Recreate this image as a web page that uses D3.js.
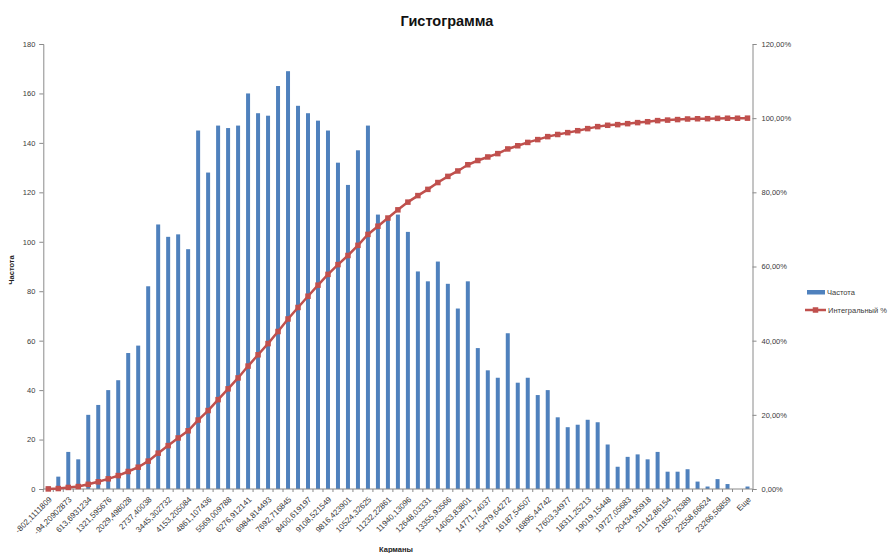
<!DOCTYPE html>
<html>
<head>
<meta charset="utf-8">
<script src="https://cdn.jsdelivr.net/npm/d3@7"></script>
<style>
  body { margin: 0; background: #fff; }
  text { font-family: "Liberation Sans", Arial, sans-serif; }
</style>
</head>
<body>
<svg id="chart" width="893" height="553"></svg>
<script>
// Bin upper bounds ("Карманы"), last bin is the overflow bin
const bins = [
  "-802,1111809", "-448,1600079", "-94,20902873", "259,7421443", "613,6931234", "967,6442964",
  "1321,595676", "1675,546849", "2029,498028", "2383,449201", "2737,40038", "3091,351553",
  "3445,302732", "3799,253905", "4153,205084", "4507,156257", "4861,107436", "5215,058609",
  "5569,009788", "5922,960961", "6276,912141", "6630,863314", "6984,814493", "7338,765666",
  "7692,716845", "8046,668018", "8400,619197", "8754,57037", "9108,521549", "9462,472722",
  "9816,423901", "10170,37507", "10524,32625", "10878,27742", "11232,22861", "11586,17978",
  "11940,13096", "12294,08213", "12648,03331", "13001,98448", "13355,93566", "13709,88683",
  "14063,83801", "14417,78918", "14771,74037", "15125,69154", "15479,64272", "15833,59389",
  "16187,54507", "16541,49624", "16895,44742", "17249,39859", "17603,34977", "17957,30094",
  "18311,25213", "18665,2033", "19019,15448", "19373,10565", "19727,05683", "20081,008",
  "20434,95918", "20788,91035", "21142,86154", "21496,81271", "21850,76389", "22204,71506",
  "22558,66624", "22912,61741", "23266,56859", "23620,51976", "Еще"
];

// Frequency per bin ("Частота")
const frequency = [
  1, 5, 15, 12, 30, 34, 40, 44, 55, 58,
  82, 107, 102, 103, 97, 145, 128, 147, 146, 147,
  160, 152, 151, 163, 169, 155, 152, 149, 145, 132,
  123, 137, 147, 111, 110, 111, 104, 88, 84, 92,
  83, 73, 84, 57, 48, 45, 63, 43, 45, 38,
  40, 29, 25, 26, 28, 27, 18, 9, 13, 14,
  12, 15, 7, 7, 8, 3, 1, 4, 2, 0, 1
];

// Cumulative share in percent ("Интегральный %")
const cumulativePct = [
  0.02, 0.12, 0.42, 0.66, 1.26, 1.94, 2.74, 3.62, 4.72, 5.88,
  7.52, 9.66, 11.70, 13.76, 15.70, 18.60, 21.16, 24.10, 27.01, 29.95,
  33.15, 36.19, 39.21, 42.47, 45.85, 48.95, 51.99, 54.97, 57.87, 60.51,
  62.97, 65.71, 68.65, 70.87, 73.07, 75.28, 77.36, 79.12, 80.80, 82.64,
  84.30, 85.76, 87.44, 88.58, 89.54, 90.44, 91.70, 92.56, 93.46, 94.22,
  95.02, 95.60, 96.10, 96.62, 97.18, 97.72, 98.08, 98.26, 98.52, 98.80,
  99.04, 99.34, 99.48, 99.62, 99.78, 99.84, 99.86, 99.94, 99.98, 99.98, 100.00
];

const freqTicks = [0, 20, 40, 60, 80, 100, 120, 140, 160, 180];
const pctTicks = [0, 20, 40, 60, 80, 100, 120];

const svg = d3.select("#chart");
const plot = { left: 43.3, right: 752.5, top: 44, bottom: 489 };
const axisColor = "#8a8a8a";
const labelColor = "#3a3a3a";
const barColor = "#4f81bd";
const lineColor = "#c0504d";

const locale = d3.formatLocale({ decimal: ",", thousands: " ", grouping: [3], currency: ["", ""] });
const fmtPct = v => locale.format(".2f")(v) + "%";

const x = d3.scaleBand().domain(bins).range([plot.left, plot.right]).padding(0);
const yFreq = d3.scaleLinear().domain([0, 180]).range([plot.bottom, plot.top]);
const yPct = d3.scaleLinear().domain([0, 120]).range([plot.bottom, plot.top]);
const barW = x.bandwidth() * 0.4;

// Title
svg.append("text")
  .attr("x", 447).attr("y", 26)
  .attr("text-anchor", "middle")
  .style("font-size", "14.5px").style("font-weight", "bold").style("fill", "#111")
  .text("Гистограмма");

// Bars
svg.append("g").selectAll("rect")
  .data(frequency)
  .join("rect")
  .attr("x", (d, i) => x(bins[i]) + x.bandwidth() / 2 - barW / 2)
  .attr("y", d => yFreq(d))
  .attr("width", barW)
  .attr("height", d => yFreq(0) - yFreq(d))
  .attr("fill", barColor);

// Left axis
const leftAxis = svg.append("g")
  .attr("transform", `translate(${plot.left},0)`)
  .call(d3.axisLeft(yFreq).tickValues(freqTicks).tickSize(4).tickPadding(4));
leftAxis.select(".domain").attr("stroke", axisColor);
leftAxis.selectAll(".tick line").attr("stroke", axisColor);
leftAxis.selectAll(".tick text").style("font-size", "7.5px").style("fill", labelColor)
  .style("font-family", "'Liberation Sans', Arial, sans-serif");

// Right axis
const rightAxis = svg.append("g")
  .attr("transform", `translate(${plot.right},0)`)
  .call(d3.axisRight(yPct).tickValues(pctTicks).tickFormat(fmtPct).tickSize(4).tickPadding(5));
rightAxis.select(".domain").attr("stroke", axisColor);
rightAxis.selectAll(".tick line").attr("stroke", axisColor);
rightAxis.selectAll(".tick text").style("font-size", "7.5px").style("fill", labelColor)
  .style("font-family", "'Liberation Sans', Arial, sans-serif");

// Category axis with ticks at bin boundaries
const bottom = svg.append("g");
bottom.append("line")
  .attr("x1", plot.left).attr("x2", plot.right)
  .attr("y1", plot.bottom).attr("y2", plot.bottom)
  .attr("stroke", axisColor);
bottom.selectAll("line.bound")
  .data(bins.concat(["__end"]))
  .join("line")
  .attr("class", "bound")
  .attr("x1", (d, i) => i < bins.length ? x(d) : plot.right)
  .attr("x2", (d, i) => i < bins.length ? x(d) : plot.right)
  .attr("y1", plot.bottom).attr("y2", plot.bottom + 3)
  .attr("stroke", axisColor);
bottom.selectAll("text")
  .data(bins.filter((d, i) => i % 2 === 0))
  .join("text")
  .attr("transform", d => `translate(${x(d) + x.bandwidth() / 2 + 2},${plot.bottom + 9}) rotate(-45)`)
  .attr("text-anchor", "end")
  .attr("dy", "0.35em")
  .style("font-size", "8px").style("fill", labelColor)
  .text(d => d);

// Cumulative line with square markers
const line = d3.line()
  .x((d, i) => x(bins[i]) + x.bandwidth() / 2)
  .y(d => yPct(d));
svg.append("path")
  .datum(cumulativePct)
  .attr("d", line)
  .attr("fill", "none")
  .attr("stroke", lineColor)
  .attr("stroke-width", 2.5);
const m = 5.5;
svg.append("g").selectAll("rect")
  .data(cumulativePct)
  .join("rect")
  .attr("x", (d, i) => x(bins[i]) + x.bandwidth() / 2 - m / 2)
  .attr("y", d => yPct(d) - m / 2)
  .attr("width", m).attr("height", m)
  .attr("fill", lineColor);

// Axis titles
svg.append("text")
  .attr("transform", "translate(14,270) rotate(-90)")
  .attr("text-anchor", "middle")
  .style("font-size", "7.5px").style("font-weight", "bold").style("fill", "#222")
  .text("Частота");
svg.append("text")
  .attr("x", 396).attr("y", 552)
  .attr("text-anchor", "middle")
  .style("font-size", "7.5px").style("font-weight", "bold").style("fill", "#222")
  .text("Карманы");

// Legend
const legend = svg.append("g");
legend.append("rect")
  .attr("x", 807).attr("y", 290).attr("width", 18).attr("height", 4.5)
  .attr("fill", barColor);
legend.append("text")
  .attr("x", 827).attr("y", 292).attr("dy", "0.35em")
  .style("font-size", "7.5px").style("fill", labelColor)
  .text("Частота");
legend.append("line")
  .attr("x1", 805).attr("x2", 826).attr("y1", 310).attr("y2", 310)
  .attr("stroke", lineColor).attr("stroke-width", 2.5);
legend.append("rect")
  .attr("x", 815.5 - m / 2).attr("y", 310 - m / 2).attr("width", m).attr("height", m)
  .attr("fill", lineColor);
legend.append("text")
  .attr("x", 828).attr("y", 310).attr("dy", "0.35em")
  .style("font-size", "7.5px").style("fill", labelColor)
  .text("Интегральный %");
</script>
</body>
</html>
